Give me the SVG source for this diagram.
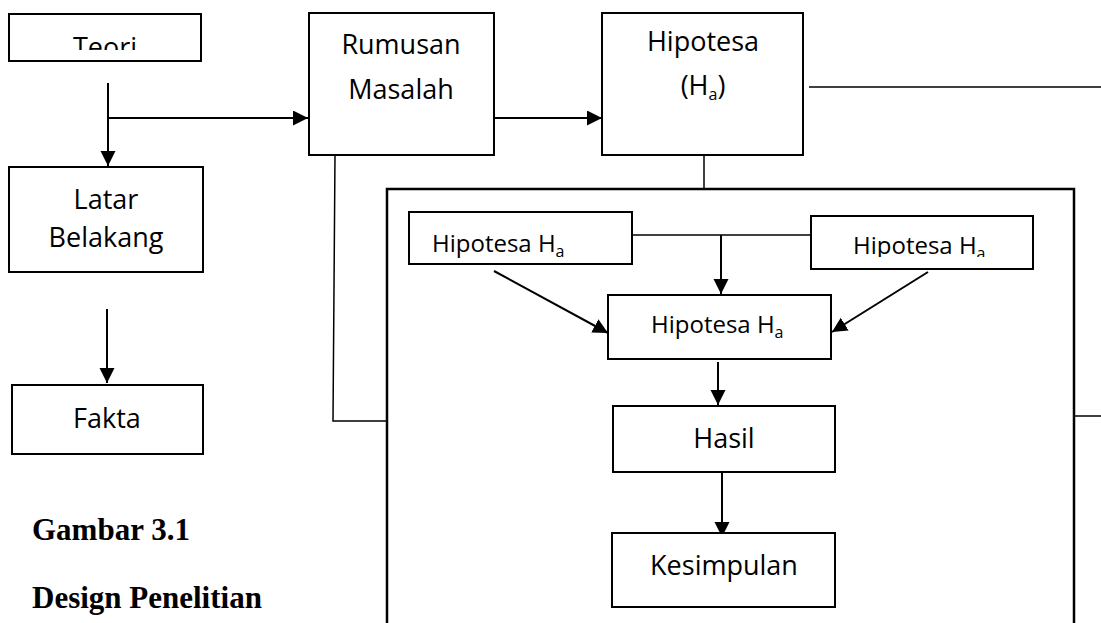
<svg xmlns="http://www.w3.org/2000/svg" width="1101" height="623" viewBox="0 0 1101 623">
<style>
.box{fill:#fff;stroke:#000;stroke-width:2}
.t{font-family:"Open Sans","Noto Sans",sans-serif;font-size:27px;fill:#000;text-anchor:middle}
.ts{font-family:"Open Sans","Noto Sans",sans-serif;font-size:24px;fill:#000}
.c{fill:none;stroke:#000;stroke-width:2}
.thin{fill:none;stroke:#000;stroke-width:1.5}
.cap{font-family:"Liberation Serif","Times New Roman",serif;font-weight:bold;font-size:31px;fill:#000}
</style>
<defs>
<marker id="ah" markerUnits="userSpaceOnUse" markerWidth="16" markerHeight="16" refX="15" refY="7.5" orient="auto">
<path d="M0,0 L15,7.5 L0,15 Z" fill="#000"/>
</marker>
<clipPath id="clipTeori"><rect x="9" y="14" width="192" height="36"/></clipPath>
<clipPath id="clipR"><rect x="811" y="216" width="222" height="41"/></clipPath>
</defs>
<rect width="1101" height="623" fill="#fff"/>

<g id="connectors">
<line class="c" x1="108" y1="83" x2="108" y2="166" marker-end="url(#ah)"/>
<line class="c" x1="108" y1="118" x2="308" y2="118" marker-end="url(#ah)"/>
<line class="c" x1="107" y1="309" x2="107" y2="383" marker-end="url(#ah)"/>
<line class="c" x1="494" y1="118" x2="602" y2="118" marker-end="url(#ah)"/>
<polyline class="thin" points="335,155 333,421 387,421"/>
<line class="thin" x1="704" y1="155" x2="704" y2="189"/>
<line class="thin" x1="809" y1="87" x2="1101" y2="87"/>
<line class="thin" x1="1074" y1="416" x2="1101" y2="416"/>
<line class="thin" x1="632" y1="235" x2="811" y2="235"/>
<line class="c" x1="721" y1="235" x2="721" y2="294" marker-end="url(#ah)"/>
<line class="c" x1="494" y1="271" x2="608" y2="333" marker-end="url(#ah)"/>
<line class="c" x1="928" y1="272" x2="832" y2="332" marker-end="url(#ah)"/>
<line class="c" x1="718" y1="362" x2="718" y2="405" marker-end="url(#ah)"/>
<line class="c" x1="722" y1="472" x2="722" y2="537" marker-end="url(#ah)"/>
</g>

<g id="frame">
<path d="M387,625 L387,189 L1074,189 L1074,625" fill="none" stroke="#000" stroke-width="2.5"/>
</g>

<g id="teori">
<rect class="box" x="9" y="14" width="192" height="47"/>
<text class="t" x="105" y="57" clip-path="url(#clipTeori)">Teori</text>
</g>

<g id="latar">
<rect class="box" x="9" y="167" width="194" height="105"/>
<text class="t" x="106" y="209">Latar</text>
<text class="t" x="106" y="247">Belakang</text>
</g>

<g id="fakta">
<rect class="box" x="12" y="385" width="191" height="69"/>
<text class="t" x="107" y="428">Fakta</text>
</g>

<g id="rumusan">
<rect class="box" x="309" y="13" width="185" height="142"/>
<text class="t" x="401" y="54">Rumusan</text>
<text class="t" x="401" y="99">Masalah</text>
</g>

<g id="hipotesa-main">
<rect class="box" x="602" y="13" width="201" height="142"/>
<text class="t" x="703" y="51" font-size="25">Hipotesa</text>
<text class="t" x="703" y="95" font-size="25">(H<tspan font-size="16" dy="5">a</tspan><tspan dy="-5">)</tspan></text>
</g>

<g id="hipotesa-left">
<rect class="box" x="409" y="212" width="223" height="52"/>
<text class="ts" x="432" y="252">Hipotesa H<tspan font-size="16" dy="5">a</tspan></text>
</g>

<g id="hipotesa-right">
<rect class="box" x="811" y="216" width="222" height="53"/>
<text class="ts" x="853" y="254" clip-path="url(#clipR)">Hipotesa H<tspan font-size="16" dy="5">a</tspan></text>
</g>

<g id="hipotesa-center">
<rect class="box" x="608" y="295" width="223" height="64"/>
<text class="ts" x="651" y="333">Hipotesa H<tspan font-size="16" dy="5">a</tspan></text>
</g>

<g id="hasil">
<rect class="box" x="613" y="406" width="222" height="66"/>
<text class="t" x="724" y="448">Hasil</text>
</g>

<g id="kesimpulan">
<rect class="box" x="612" y="533" width="223" height="74"/>
<text class="t" x="724" y="575">Kesimpulan</text>
</g>

<g id="caption">
<text class="cap" x="32" y="540">Gambar 3.1</text>
<text class="cap" x="32" y="608">Design Penelitian</text>
</g>
</svg>
